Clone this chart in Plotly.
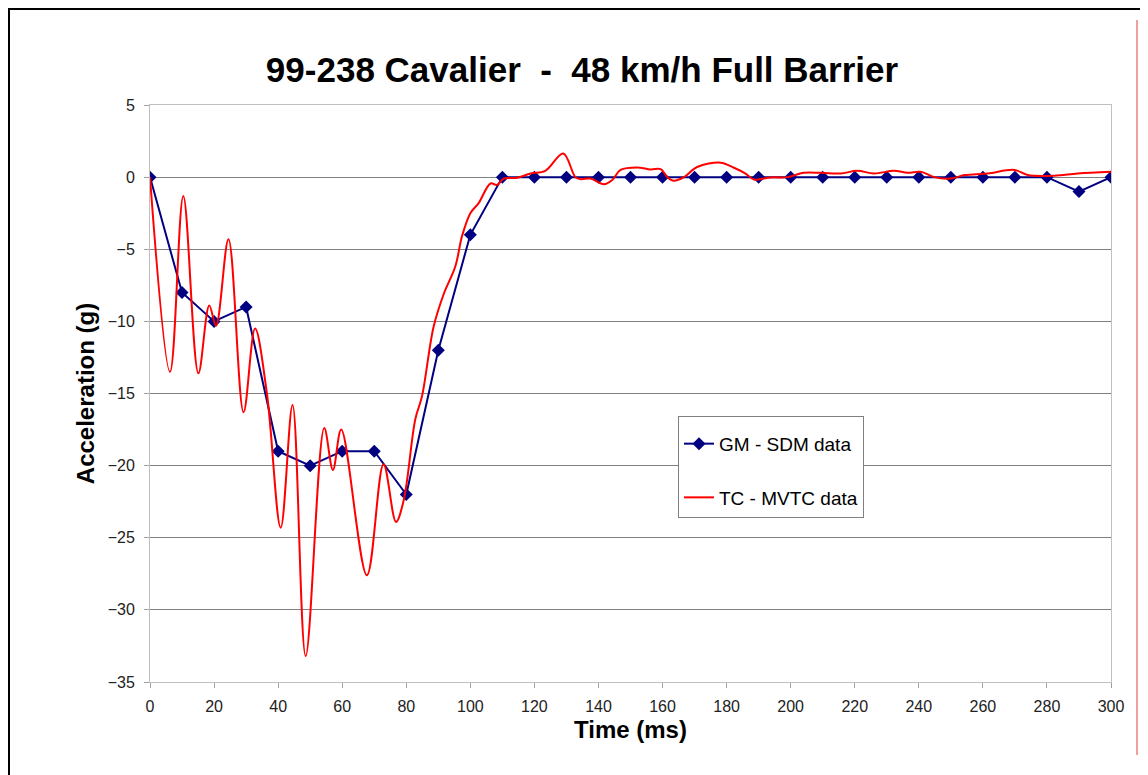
import plotly.graph_objects as go

# GM - SDM data (every 10 ms)
gm_time = [0, 10, 20, 30, 40, 50, 60, 70, 80, 90, 100, 110, 120, 130, 140, 150,
           160, 170, 180, 190, 200, 210, 220, 230, 240, 250, 260, 270, 280, 290, 300]
gm_accel = [0, -8, -10, -9, -19, -20, -19, -19, -22, -12, -4, 0, 0, 0, 0, 0,
            0, 0, 0, 0, 0, 0, 0, 0, 0, 0, 0, 0, 0, -1, 0]

# TC - MVTC data
tc_time = [0, 6.25, 10.4, 15.1, 18.5, 20.6, 24.5, 29.2, 32.8, 36.5, 40.8, 44.5,
           48.6, 54.4, 57.1, 59.7, 67.7, 72.9, 76.8, 79.2, 82.8, 84.9, 88.5, 91.7,
           95.3, 97.4, 100, 102.6, 106.3, 108.3, 110.4, 114.6, 118.8, 123.4, 129,
           132.8, 134.4, 137.5, 141.7, 144.3, 146.9, 152.1, 156.3, 159.4, 161.5,
           163.5, 166.7, 170.8, 178.1, 182.3, 185.9, 188.5, 193.8, 199, 204, 209.4,
           215.6, 220.8, 226, 232.3, 236.5, 240.6, 244.8, 250, 254.2, 261.5, 269.8,
           274, 282.3, 289.6, 300]
tc_accel = [0, -13.5, -1.3, -13.6, -8.9, -10.3, -4.3, -16.3, -10.5, -15.0, -24.3, -15.8,
            -33.2, -17.4, -20.3, -17.5, -27.6, -19.9, -23.9, -22.4, -16.8, -15.2, -10.4, -8.1,
            -6.2, -4.1, -2.5, -1.8, -0.44, -0.55, -0.1, -0.05, 0.25, 0.44, 1.64,
            0.0, -0.14, -0.1, -0.5, -0.2, 0.5, 0.67, 0.53, 0.55, 0.0,
            -0.25, 0.0, 0.7, 1.0, 0.65, 0.25, -0.16, -0.02, 0.0, 0.3, 0.3,
            0.25, 0.44, 0.25, 0.44, 0.3, 0.37, 0.0, -0.1, 0.14, 0.25, 0.5,
            0.15, 0.1, 0.25, 0.37]

x_ticks = list(range(0, 301, 20))
y_ticks = list(range(-35, 6, 5))

FONT = "Liberation Sans, Arial, sans-serif"

# figure pixel geometry (page has an 8 px body margin)
W, H = 1140, 767
L, R, T, B = 142, 1103, 97, 674
PW, PH = R - L, B - T


def px(fx):
    return (fx - L) / PW


def py(fy):
    return (B - fy) / PH


fig = go.Figure()
fig.add_trace(go.Scatter(
    x=gm_time, y=gm_accel, mode="lines+markers", name="GM - SDM data",
    line=dict(color="#000080", width=2),
    marker=dict(symbol="diamond", size=10, color="#000080"),
    legendgroup="gm",
))
fig.add_trace(go.Scatter(
    x=tc_time, y=tc_accel, mode="lines", name="TC - MVTC data",
    line=dict(color="#FF0000", width=2, shape="spline", smoothing=1.0),
    legendgroup="tc",
))

fig.update_layout(
    width=W, height=H,
    margin=dict(l=L, r=W - R, t=T, b=H - B),
    paper_bgcolor="white", plot_bgcolor="white",
    font=dict(family=FONT, color="#222222", size=16),
    title=dict(
        text="<b>99-238 Cavalier\u00a0 -\u00a0 48 km/h Full Barrier</b>",
        x=574 / W, xref="container", xanchor="center",
        y=1 - 62 / H, yref="container", yanchor="middle",
        font=dict(size=35, color="black", family=FONT),
    ),
    showlegend=True,
    legend=dict(
        x=px(670), y=py(408), xanchor="left", yanchor="top",
        bgcolor="white", bordercolor="#808080", borderwidth=1,
        font=dict(size=19, color="black", family=FONT),
        tracegroupgap=26, itemwidth=30,
        title=dict(text=" ", font=dict(size=6)),
    ),
)

fig.update_xaxes(
    range=[0, 300], tickvals=x_ticks, showgrid=False, zeroline=False,
    showline=True, linecolor="#c0c0c0", linewidth=1, mirror=True,
    ticks="outside", ticklen=5, tickcolor="#a0a0a0", ticklabelstandoff=5,
    tickfont=dict(size=16, color="#222222"),
    title=dict(text="<b>Time (ms)</b>", font=dict(size=24, color="black"), standoff=6),
)
fig.update_yaxes(
    range=[-35, 5], tickvals=y_ticks, showgrid=True, gridcolor="#808080", gridwidth=1,
    zeroline=False,
    showline=True, linecolor="#c0c0c0", linewidth=1, mirror=True,
    ticks="outside", ticklen=5, tickcolor="#a0a0a0", ticklabelstandoff=6,
    tickfont=dict(size=16, color="#222222"),
    title=dict(text="<b>Acceleration (g)</b>", font=dict(size=24, color="black"), standoff=6),
)

# outer chart frame and right-side red rule (decoration)
fig.add_shape(type="rect", xref="paper", yref="paper",
              x0=px(1), x1=px(1180), y0=py(800), y1=py(1),
              line=dict(color="black", width=2), layer="below")
fig.add_shape(type="line", xref="paper", yref="paper",
              x0=px(1129), x1=px(1129), y0=py(747), y1=py(12),
              line=dict(color="#e04040", width=1))

fig.write_html("out.html")
